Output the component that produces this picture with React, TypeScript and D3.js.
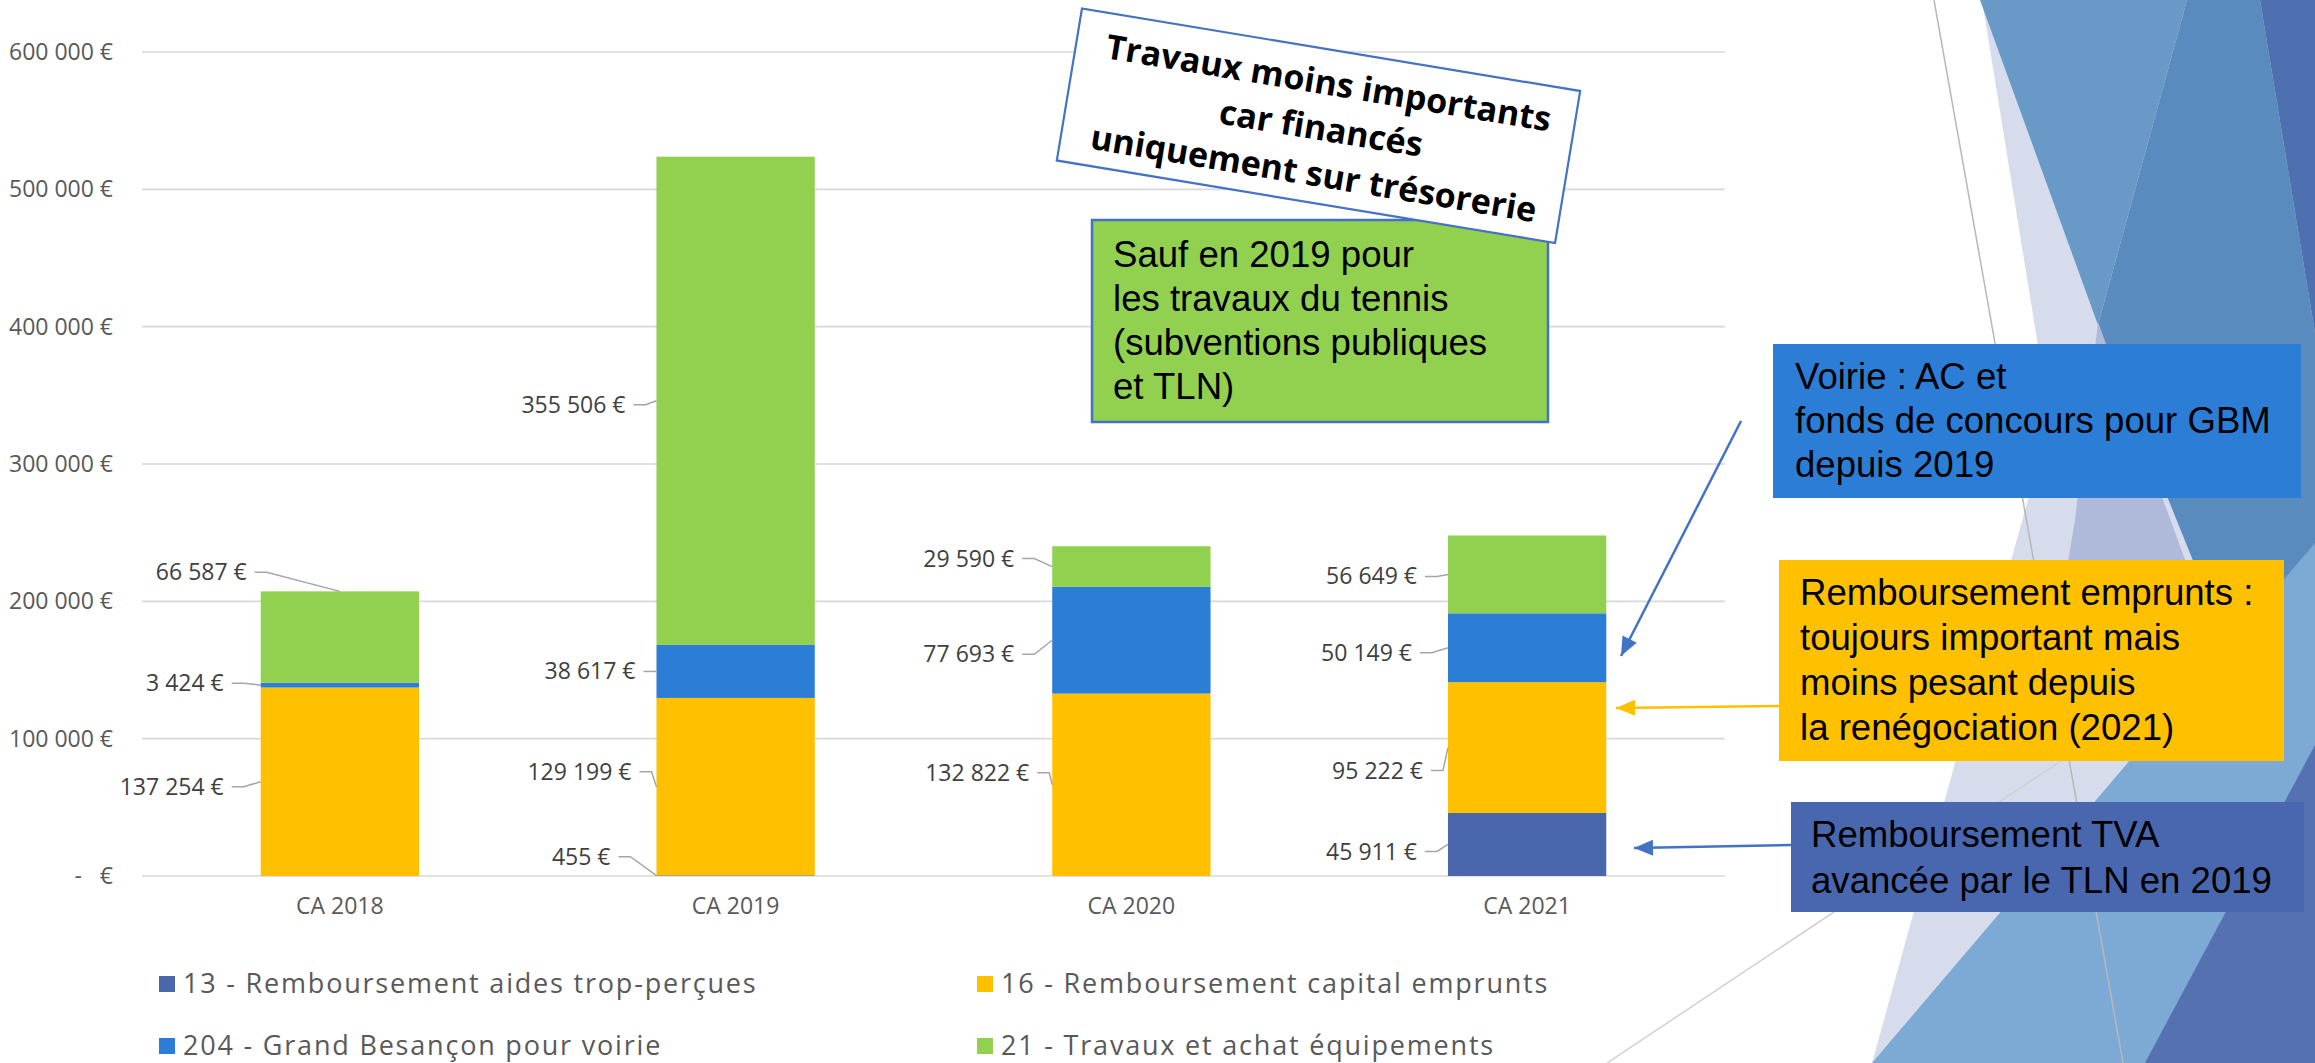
import * as d3 from 'd3';

const years = ['CA 2018', 'CA 2019', 'CA 2020', 'CA 2021'];
const seriesKeys = ['13', '16', '204', '21'];
const seriesNames = [
  '13 - Remboursement aides trop-perçues',
  '16 - Remboursement capital emprunts',
  '204 - Grand Besançon pour voirie',
  '21 - Travaux et achat équipements',
];
const seriesColors = ['#4A66AC', '#FFC000', '#2B7DD6', '#92D050'];

const aides13 = [0, 455, 0, 45911];
const emprunts16 = [137254, 129199, 132822, 95222];
const voirie204 = [3424, 38617, 77693, 50149];
const travaux21 = [66587, 355506, 29590, 56649];

const yTicks = [0, 100000, 200000, 300000, 400000, 500000, 600000];

// manual placement of the data labels, as in the slide: [dx from bar left, dy from anchor, anchor on top]
const labelShift: [number, number, boolean?][][] = [
  [[0, 0], [-46, -19], [0, 0], [-31, 7]],
  [[-37, 5], [-25, -15], [-23, -12], [-25, 23]],
  [[-37, -2], [-21, 0], [-38, 14], [-36, 5]],
  [[-14, -19, true], [-31, 4], [-38, -8], [-31, 2]],
];

const W = 2315;
const H = 1063;
const chartFont = "'Open Sans', 'Noto Sans', sans-serif";
const boxFont = "'Liberation Sans', Arial, sans-serif";

// decorative slide background (right side)
const bgShapes: { fill: string; pts: [number, number][] }[] = [
  { fill: '#D6DCEC', pts: [[1982, 0], [2315, 0], [2315, 1063], [1872, 1063], [2050, 420]] },
  { fill: '#5A8BBE', pts: [[2187, 0], [2260, 0], [2315, 333], [2315, 600], [2225, 640], [2098, 325]] },
  { fill: '#6999C7', pts: [[1980, 0], [2187, 0], [2098, 325]] },
  { fill: '#AFBADB', pts: [[2098, 322], [2210, 628], [2128, 762], [2055, 640], [2075, 520]] },
  { fill: '#4E6FB0', pts: [[2260, 0], [2315, 0], [2315, 333]] },
  { fill: '#7DA9D5', pts: [[1872, 1063], [2315, 543], [2315, 1063]] },
  { fill: '#5571B2', pts: [[2145, 1063], [2315, 745], [2315, 1063]] },
];

const locale = d3.formatLocale({
  decimal: ',',
  thousands: '\u00a0',
  grouping: [3],
  currency: ['', '\u00a0€'],
});
const euro = locale.format('$,.0f');
const fmt = (v: number) => (v === 0 ? '-\u00a0\u00a0\u00a0€' : euro(v));

function arrowHead(x1: number, y1: number, x2: number, y2: number, len = 19, half = 8) {
  const a = Math.atan2(y2 - y1, x2 - x1);
  const bx = x2 - len * Math.cos(a);
  const by = y2 - len * Math.sin(a);
  const px = -Math.sin(a) * half;
  const py = Math.cos(a) * half;
  return `${x2},${y2} ${bx + px},${by + py} ${bx - px},${by - py}`;
}

export default function App() {
  const x = d3.scaleBand<string>().domain(years).range([142, 1725]).paddingInner(0.6).paddingOuter(0.3);
  const y = d3.scaleLinear().domain([0, 600000]).range([876, 52]);

  const rows = years.map((yr, i) => ({
    year: yr,
    '13': aides13[i],
    '16': emprunts16[i],
    '204': voirie204[i],
    '21': travaux21[i],
  }));
  const stacked = d3.stack<any>().keys(seriesKeys)(rows);

  const labels: any[] = [];
  stacked.forEach((layer, si) => {
    layer.forEach((seg, yi) => {
      const v = seg[1] - seg[0];
      if (v <= 0) return;
      const bx = x(years[yi])!;
      const [dx, dy, top] = labelShift[si][yi];
      const ax = top ? bx + x.bandwidth() / 2 : bx;
      const ay = top ? y(seg[1]) : y((seg[0] + seg[1]) / 2);
      const tx = bx + dx;
      const ty = ay + dy;
      const hx = Math.min(tx + 20, ax);
      labels.push({
        key: `${si}-${yi}`,
        text: fmt(v),
        tx,
        ty,
        path: `M${tx + 8},${ty} L${hx},${ty} L${ax},${ay}`,
      });
    });
  });

  const arrows = [
    { x1: 1741, y1: 421, x2: 1621, y2: 656, color: '#4472C4' },
    { x1: 1779, y1: 706, x2: 1616, y2: 708, color: '#FFC000' },
    { x1: 1791, y1: 845, x2: 1634, y2: 848, color: '#4472C4' },
  ];

  return (
    <div style={{ position: 'absolute', left: 0, top: 0 }}>
      <svg width={W} height={H} viewBox={`0 0 ${W} ${H}`} style={{ display: 'block', background: '#fff' }}>
        {/* background */}
        {bgShapes.map((s, i) => (
          <polygon key={i} points={s.pts.map((p) => p.join(',')).join(' ')} fill={s.fill} />
        ))}
        <line x1={1934} y1={0} x2={2123} y2={1063} stroke="#B8B8B8" strokeWidth={1.5} />
        <line x1={1607} y1={1063} x2={2100} y2={735} stroke="#D0D0D0" strokeWidth={1.5} />

        {/* gridlines + y labels */}
        {yTicks.map((t) => (
          <g key={t}>
            <line x1={142} x2={1725} y1={y(t)} y2={y(t)} stroke="#D9D9D9" strokeWidth={1.6} />
            <text
              x={113}
              y={y(t)}
              dy="0.35em"
              textAnchor="end"
              fontFamily={chartFont}
              fontSize={23}
              fill="#595959"
            >
              {fmt(t)}
            </text>
          </g>
        ))}

        {/* bars */}
        {stacked.map((layer, si) => (
          <g key={seriesKeys[si]} fill={seriesColors[si]}>
            {layer.map((seg, yi) =>
              seg[1] - seg[0] > 0 ? (
                <rect
                  key={yi}
                  x={x(years[yi])}
                  y={y(seg[1])}
                  width={x.bandwidth()}
                  height={y(seg[0]) - y(seg[1])}
                />
              ) : null
            )}
          </g>
        ))}

        {/* data labels */}
        {labels.map((l) => (
          <g key={l.key}>
            <path d={l.path} fill="none" stroke="#A6A6A6" strokeWidth={1.5} />
            <text x={l.tx} y={l.ty} dy="0.35em" textAnchor="end" fontFamily={chartFont} fontSize={23} fill="#404040">
              {l.text}
            </text>
          </g>
        ))}

        {/* x axis labels */}
        {years.map((yr) => (
          <text
            key={yr}
            x={x(yr)! + x.bandwidth() / 2}
            y={914}
            textAnchor="middle"
            fontFamily={chartFont}
            fontSize={23}
            fill="#595959"
          >
            {yr}
          </text>
        ))}

        {/* legend */}
        {seriesNames.map((name, i) => {
          const lx = i % 2 === 0 ? 159 : 977;
          const ly = i < 2 ? 993 : 1055;
          return (
            <g key={name}>
              <rect x={lx} y={ly - 17} width={16} height={16} fill={seriesColors[i]} />
              <text x={lx + 24} y={ly} fontFamily={chartFont} fontSize={27} letterSpacing={1.8} fill="#595959">
                {name}
              </text>
            </g>
          );
        })}

        {/* green note */}
        <rect x={1092} y={220} width={456} height={202} fill="#92D050" stroke="#4472C4" strokeWidth={2.5} />
        <g fontFamily={boxFont} fontSize={36.6} fill="#000">
          <text x={1113} y={267}>Sauf en 2019 pour</text>
          <text x={1113} y={311}>les travaux du tennis</text>
          <text x={1113} y={355}>(subventions publiques</text>
          <text x={1113} y={399}>et TLN)</text>
        </g>

        {/* rotated white note */}
        <g transform="translate(1318.5,125.75) rotate(9.4)">
          <rect x={-252.5} y={-77} width={505} height={154} fill="#fff" stroke="#4472C4" strokeWidth={2.2} />
          <g fontFamily={chartFont} fontSize={34} fontWeight={700} fill="#000" textAnchor="middle">
            <text x={3} y={-32}>Travaux moins importants</text>
            <text x={3} y={14}>car financés</text>
            <text x={3} y={60}>uniquement sur trésorerie</text>
          </g>
        </g>

        {/* right notes */}
        <rect x={1773} y={344} width={528} height={154} fill="#2B7DD6" />
        <g fontFamily={boxFont} fontSize={36.6} fill="#000">
          <text x={1795} y={389}>Voirie : AC et</text>
          <text x={1795} y={433}>fonds de concours pour GBM</text>
          <text x={1795} y={477}>depuis 2019</text>
        </g>

        <rect x={1779} y={560} width={505} height={201} fill="#FFC000" />
        <g fontFamily={boxFont} fontSize={36.6} fill="#000">
          <text x={1800} y={605}>Remboursement emprunts :</text>
          <text x={1800} y={650}>toujours important mais</text>
          <text x={1800} y={695}>moins pesant depuis</text>
          <text x={1800} y={740}>la renégociation (2021)</text>
        </g>

        <rect x={1791} y={802} width={513} height={110} fill="#4967AE" />
        <g fontFamily={boxFont} fontSize={36.6} fill="#000">
          <text x={1811} y={847}>Remboursement TVA</text>
          <text x={1811} y={893}>avancée par le TLN en 2019</text>
        </g>

        {/* arrows */}
        {arrows.map((a, i) => (
          <g key={i}>
            <line x1={a.x1} y1={a.y1} x2={a.x2} y2={a.y2} stroke={a.color} strokeWidth={2.5} />
            <polygon points={arrowHead(a.x1, a.y1, a.x2, a.y2)} fill={a.color} />
          </g>
        ))}
      </svg>
    </div>
  );
}
